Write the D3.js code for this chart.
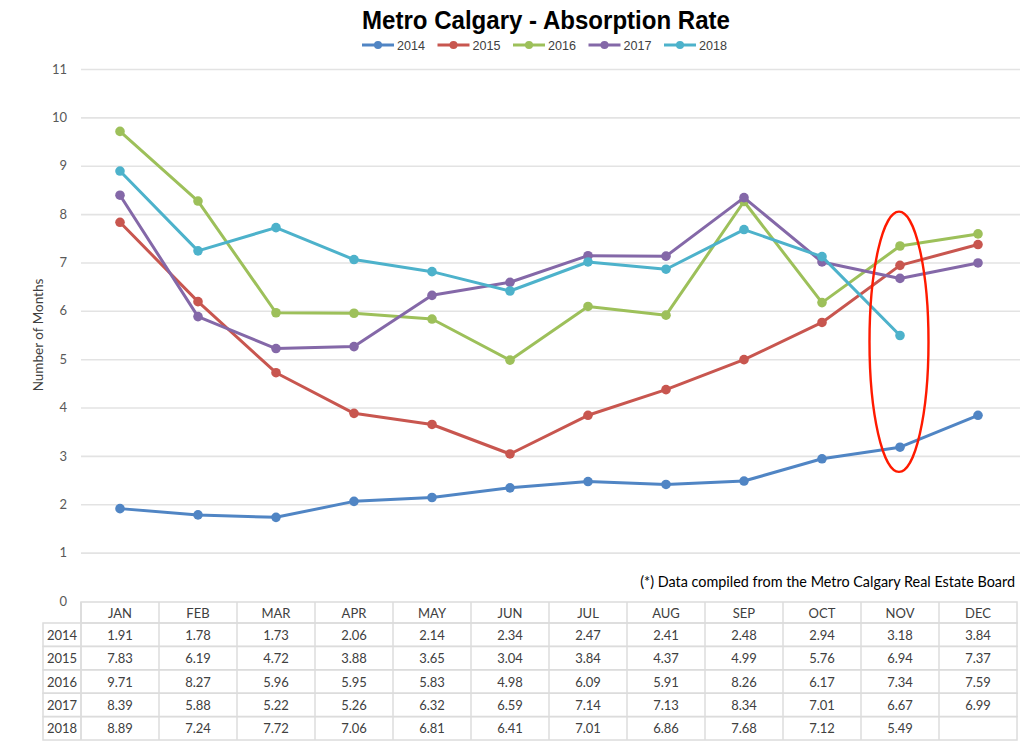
<!DOCTYPE html>
<html>
<head>
<meta charset="utf-8">
<script src="https://cdn.jsdelivr.net/npm/d3@7/dist/d3.min.js"></script>
<style>
  html, body { margin: 0; padding: 0; background: #fff; }
  svg { display: block; }
</style>
</head>
<body>
<svg id="chart" width="1024" height="747"></svg>
<script>
const months = ["JAN","FEB","MAR","APR","MAY","JUN","JUL","AUG","SEP","OCT","NOV","DEC"];
const years = ["2014","2015","2016","2017","2018"];
const v2014 = [1.91,1.78,1.73,2.06,2.14,2.34,2.47,2.41,2.48,2.94,3.18,3.84];
const v2015 = [7.83,6.19,4.72,3.88,3.65,3.04,3.84,4.37,4.99,5.76,6.94,7.37];
const v2016 = [9.71,8.27,5.96,5.95,5.83,4.98,6.09,5.91,8.26,6.17,7.34,7.59];
const v2017 = [8.39,5.88,5.22,5.26,6.32,6.59,7.14,7.13,8.34,7.01,6.67,6.99];
const v2018 = [8.89,7.24,7.72,7.06,6.81,6.41,7.01,6.86,7.68,7.12,5.49,null];
const yTicks = [0,1,2,3,4,5,6,7,8,9,10,11];
const colors = ["#5085C4","#C8564F","#9DC05A","#8468A8","#4DB2CB"];
const titleText = "Metro Calgary - Absorption Rate";
const yLabel = "Number of Months";
const footnote = "(*) Data compiled from the Metro Calgary Real Estate Board";
const highlightMonth = "NOV";
const highlightRange = [2.67, 8.05];

const seriesValues = [v2014, v2015, v2016, v2017, v2018];
const series = years.map((y, i) => ({ name: y, color: colors[i], values: seriesValues[i] }));

const svg = d3.select("#chart");
const font = "Lato, 'Open Sans', sans-serif";

const x = d3.scaleBand().domain(months).range([81, 1017]);
const y = d3.scaleLinear().domain([0, 11]).range([601, 69]);
const cx = m => x(m) + x.bandwidth() / 2;

// Gridlines
const grid = svg.append("g").attr("transform", "translate(81,0)")
  .call(d3.axisLeft(y).tickValues(yTicks.filter(t => t > 0)).tickSize(-939).tickFormat(""));
grid.select(".domain").remove();
grid.selectAll(".tick line").attr("stroke", "#e3e3e3").attr("stroke-width", 1.6);

// Y tick labels
const yAxis = svg.append("g").attr("transform", "translate(67,0)")
  .call(d3.axisLeft(y).tickValues(yTicks).tickSize(0).tickPadding(0).tickFormat(d3.format("d")));
yAxis.select(".domain").remove();
yAxis.selectAll("text").attr("font-family", font).attr("font-size", 13).attr("fill", "#595959");

// Y label
svg.append("text")
  .attr("transform", `translate(43,${(y(0) + y(11)) / 2}) rotate(-90)`)
  .attr("text-anchor", "middle")
  .attr("font-family", font).attr("font-size", 13.5).attr("fill", "#404040")
  .text(yLabel);

// Title
svg.append("text")
  .attr("x", 546).attr("y", 29)
  .attr("text-anchor", "middle")
  .attr("font-family", "'Liberation Sans Narrow', 'Liberation Sans', Arial, sans-serif")
  .attr("font-weight", "bold").attr("font-size", 25).attr("fill", "#000")
  .attr("textLength", 368).attr("lengthAdjust", "spacingAndGlyphs")
  .text(titleText);

// Legend
const legend = svg.append("g");
series.forEach((s, i) => {
  const lx = 362 + i * 75.5;
  const g = legend.append("g").attr("transform", `translate(${lx},45)`);
  g.append("line").attr("x1", 0).attr("x2", 32).attr("stroke", s.color).attr("stroke-width", 3);
  g.append("circle").attr("cx", 16).attr("r", 4).attr("fill", s.color);
  g.append("text").attr("x", 35).attr("y", 4.5)
    .attr("font-family", "'Liberation Sans Narrow', 'Liberation Sans', sans-serif")
    .attr("font-size", 13).attr("fill", "#404040")
    .attr("textLength", 28).attr("lengthAdjust", "spacingAndGlyphs")
    .text(s.name);
});

// Lines
const line = d3.line()
  .defined(d => d.v != null)
  .x(d => cx(d.m))
  .y(d => y(d.v));

series.forEach(s => {
  const pts = months.map((m, i) => ({ m, v: s.values[i] }));
  svg.append("path").datum(pts)
    .attr("fill", "none").attr("stroke", s.color).attr("stroke-width", 3)
    .attr("stroke-linejoin", "round")
    .attr("d", line);
  svg.append("g").selectAll("circle").data(pts.filter(d => d.v != null)).join("circle")
    .attr("cx", d => cx(d.m)).attr("cy", d => y(d.v)).attr("r", 4.8)
    .attr("fill", s.color);
});

// Highlight ellipse
svg.append("ellipse")
  .attr("cx", cx(highlightMonth) - 1)
  .attr("cy", (y(highlightRange[0]) + y(highlightRange[1])) / 2)
  .attr("rx", 29.5)
  .attr("ry", (y(highlightRange[0]) - y(highlightRange[1])) / 2)
  .attr("fill", "none").attr("stroke", "#FF1a00").attr("stroke-width", 2.4);

// Footnote
svg.append("text")
  .attr("x", 1015).attr("y", 587)
  .attr("text-anchor", "end")
  .attr("font-family", font).attr("font-size", 14.4).attr("fill", "#000")
  .text(footnote);

// Data table
const tableTop = 602, headerH = 21, rowH = 23.4, labelLeft = 43, tableLeft = 81, tableRight = 1017;
const tg = svg.append("g");
const border = "#dcdcdc";
tg.append("rect").attr("x", tableLeft).attr("y", tableTop).attr("width", tableRight - tableLeft).attr("height", headerH)
  .attr("fill", "none").attr("stroke", border).attr("stroke-width", 1.5);
months.forEach(m => {
  tg.append("line").attr("x1", x(m)).attr("x2", x(m)).attr("y1", tableTop).attr("y2", tableTop + headerH + rowH * years.length)
    .attr("stroke", border).attr("stroke-width", 1.5);
  tg.append("text").attr("x", cx(m)).attr("y", tableTop + headerH / 2 + 5)
    .attr("text-anchor", "middle").attr("font-family", font).attr("font-size", 13).attr("fill", "#404040").text(m);
});
series.forEach((s, r) => {
  const ry = tableTop + headerH + r * rowH;
  tg.append("rect").attr("x", labelLeft).attr("y", ry).attr("width", tableRight - labelLeft).attr("height", rowH)
    .attr("fill", "none").attr("stroke", border).attr("stroke-width", 1.5);
  tg.append("text").attr("x", (labelLeft + tableLeft) / 2).attr("y", ry + rowH / 2 + 5)
    .attr("text-anchor", "middle").attr("font-family", font).attr("font-size", 13).attr("fill", "#404040").text(s.name);
  months.forEach((m, i) => {
    if (s.values[i] == null) return;
    tg.append("text").attr("x", cx(m)).attr("y", ry + rowH / 2 + 5)
      .attr("text-anchor", "middle").attr("font-family", font).attr("font-size", 13).attr("fill", "#404040")
      .text(d3.format(".2f")(s.values[i]));
  });
});
tg.append("line").attr("x1", tableLeft).attr("x2", tableLeft).attr("y1", tableTop).attr("y2", tableTop + headerH + rowH * years.length)
  .attr("stroke", border).attr("stroke-width", 1.5);
</script>
</body>
</html>
